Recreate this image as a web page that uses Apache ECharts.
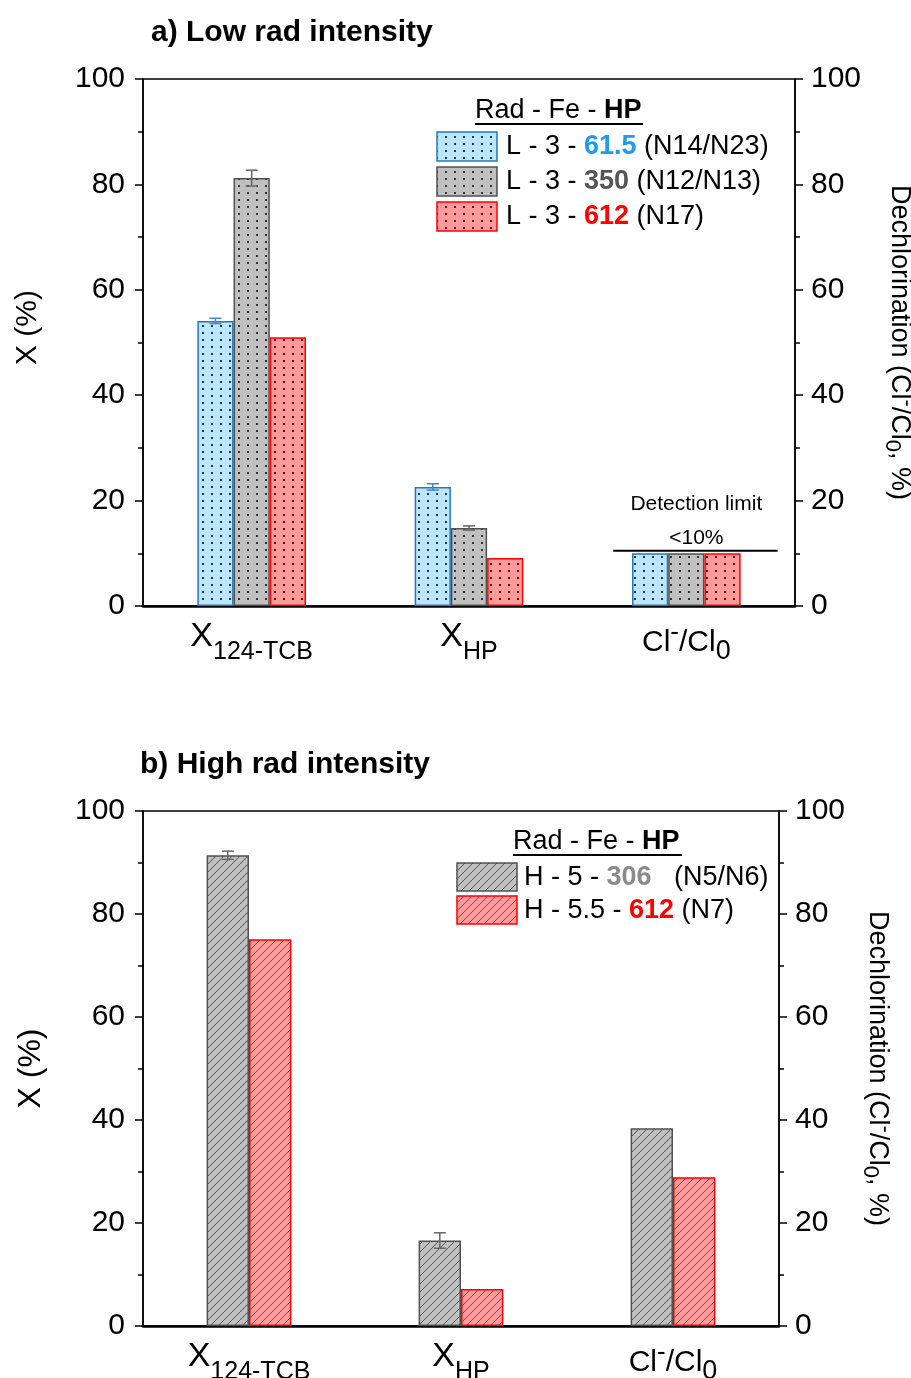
<!DOCTYPE html>
<html>
<head>
<meta charset="utf-8">
<script src="https://cdn.jsdelivr.net/npm/echarts@6/dist/echarts.min.js"></script>
<style>html,body{margin:0;padding:0;background:#fff;}#c{width:911px;height:1378px;}</style>
</head>
<body>
<div id="c"></div>
<script>
// ---------- data ----------
const categories = ['X124', 'XHP', 'Cl'];
const yTicks = [0, 20, 40, 60, 80, 100];

// a) Low rad intensity
const lowBlue = [54.1, 22.6, 10.0];
const lowBlueErr = [0.5, 0.6, 0];
const lowGray = [81.2, 14.8, 10.0];
const lowGrayErr = [1.5, 0.4, 0];
const lowRed = [51.0, 9.1, 10.0];
const detectionLimit = 10;

// b) High rad intensity
const highGray = [91.4, 16.6, 38.4];
const highGrayErr = [0.8, 1.5, 0];
const highRed = [75.1, 7.2, 28.9];

// ---------- helpers ----------
const FONT = 'Liberation Sans, Arial, sans-serif';
function dots(bg, dot) {
  const c = document.createElement('canvas'); c.width = 9; c.height = 7;
  const g = c.getContext('2d');
  g.fillStyle = bg; g.fillRect(0, 0, 9, 7);
  g.fillStyle = dot; g.fillRect(4, 3, 2, 2);
  return { image: c, repeat: 'repeat' };
}
function hatch(bg, line) {
  const c = document.createElement('canvas'); c.width = 8; c.height = 8;
  const g = c.getContext('2d');
  g.fillStyle = bg; g.fillRect(0, 0, 8, 8);
  g.strokeStyle = line; g.lineWidth = 1;
  g.beginPath();
  g.moveTo(0, 8); g.lineTo(8, 0);
  g.moveTo(-1, 1); g.lineTo(1, -1);
  g.moveTo(7, 9); g.lineTo(9, 7);
  g.stroke();
  return { image: c, repeat: 'repeat' };
}
const C = {
  blueFill: '#bde5fb', blueBorder: '#2878b8', blueDot: '#0d3a5c',
  grayFill: '#c0c0c0', grayBorder: '#505050', grayDot: '#333333',
  redFill: '#ff9a9a', redBorder: '#ff0000', redDot: '#5a1010'
};
const patBlue = dots(C.blueFill, C.blueDot);
const patGray = dots(C.grayFill, C.grayDot);
const patRed = dots(C.redFill, C.redDot);
const hatGray = hatch(C.grayFill, '#555555');
const hatRed = hatch(C.redFill, '#ff1a1a');

function errRender(n, idx, gap, color) {
  return function (params, api) {
    const ci = api.value(0), v = api.value(1), e = api.value(2);
    const bw = api.size([1, 0])[0];
    const w = bw * (1 - gap) / n;
    const cx = api.coord([ci, v])[0] + (idx - (n - 1) / 2) * w;
    const yHi = api.coord([ci, v + e])[1], yLo = api.coord([ci, v - e])[1];
    const cap = 6;
    const st = { stroke: color, lineWidth: 1.5 };
    return { type: 'group', children: [
      { type: 'line', shape: { x1: cx, y1: yHi, x2: cx, y2: yLo }, style: st },
      { type: 'line', shape: { x1: cx - cap, y1: yHi, x2: cx + cap, y2: yHi }, style: st },
      { type: 'line', shape: { x1: cx - cap, y1: yLo, x2: cx + cap, y2: yLo }, style: st }
    ]};
  };
}
function errData(vals, errs) {
  const out = [];
  vals.forEach((v, i) => { if (errs[i] > 0) out.push([i, v, errs[i]]); });
  return out;
}

const catRich = {
  x: { fontSize: 34, verticalAlign: 'top', fontFamily: FONT, color: '#000' },
  s: { fontSize: 25, verticalAlign: 'top', padding: [20, 0, 0, 0], fontFamily: FONT, color: '#000' },
  c: { fontSize: 30, verticalAlign: 'top', padding: [8, 0, 0, 0], fontFamily: FONT, color: '#000' },
  sp: { fontSize: 26, verticalAlign: 'top', fontFamily: FONT, color: '#000' },
  s0: { fontSize: 27, verticalAlign: 'top', padding: [18, 0, 0, 0], fontFamily: FONT, color: '#000' }
};
function catFmt(v) {
  if (v === 'X124') return '{x|X}{s|124-TCB}';
  if (v === 'XHP') return '{x|X}{s|HP}';
  return '{c|Cl}{sp|-}{c|/Cl}{s0|0}';
}
const nameRich = {
  n: { fontSize: 27, verticalAlign: 'top', padding: [5, 0, 0, 0], fontFamily: FONT, color: '#000' },
  sp: { fontSize: 22, verticalAlign: 'top', fontFamily: FONT, color: '#000' },
  sb: { fontSize: 22, verticalAlign: 'top', padding: [15, 0, 0, 0], fontFamily: FONT, color: '#000' }
};
const rightName = '{n|Dechlorination (Cl}{sp|-}{n|/Cl}{sb|0}{n|, %)}';

function xAxis(gi) {
  return {
    type: 'category', gridIndex: gi, data: categories,
    axisLine: { lineStyle: { color: '#000', width: 2.5 } },
    axisTick: { alignWithLabel: true, length: 9, lineStyle: { color: '#000', width: 2 } },
    axisLabel: { formatter: catFmt, rich: catRich, margin: 14, interval: 0 },
    splitLine: { show: false }
  };
}
function yAxis(gi, right, nameGap, nameSize, shift) {
  const a = {
    type: 'value', gridIndex: gi, min: 0, max: 100, interval: 20,
    position: right ? 'right' : 'left',
    axisLine: { show: true, onZero: false, lineStyle: { color: '#000', width: 1.5 } },
    axisTick: { show: true, length: 8, lineStyle: { color: '#000', width: 1.5 } },
    minorTick: { show: true, splitNumber: 2, length: 5, lineStyle: { color: '#000', width: 1.5 } },
    axisLabel: { fontSize: 30, fontFamily: FONT, color: '#000', margin: right ? 16 : 18 },
    splitLine: { show: false },
    nameLocation: 'middle', nameGap: nameGap
  };
  if (right) {
    a.name = rightName; a.nameRotate = -90;
    a.nameTextStyle = { rich: nameRich };
  } else {
    a.name = 'X (%)'; a.nameRotate = 90;
    a.nameTextStyle = { fontSize: nameSize, fontFamily: FONT, color: '#000', padding: [0, 0, 0, shift || 0] };
  }
  return a;
}

const chart = echarts.init(document.getElementById('c'), null, { renderer: 'canvas' });

function legRich(numColor) {
  return {
    t: { fontSize: 27, fontFamily: FONT, fill: '#000' },
    b: { fontSize: 27, fontFamily: FONT, fill: numColor, fontWeight: 'bold' }
  };
}
const titleRich = {
  t: { fontSize: 27, fontFamily: FONT, fill: '#000' },
  b: { fontSize: 27, fontFamily: FONT, fill: '#000', fontWeight: 'bold' }
};
function ltext(x, y, text, rich) {
  return { type: 'text', x: x, y: y, style: { text: text, rich: rich, verticalAlign: 'middle', align: 'left' } };
}

const graphic = [
  // legend a
  ltext(475, 111, '{t|Rad - Fe - }{b|HP}', titleRich),
  { type: 'line', shape: { x1: 475, y1: 124, x2: 643, y2: 124 }, style: { stroke: '#000', lineWidth: 2 } },
  { type: 'rect', shape: { x: 437, y: 132, width: 60, height: 29 }, style: { fill: patBlue, stroke: C.blueBorder, lineWidth: 1.5 } },
  { type: 'rect', shape: { x: 437, y: 167, width: 60, height: 29 }, style: { fill: patGray, stroke: C.grayBorder, lineWidth: 1.5 } },
  { type: 'rect', shape: { x: 437, y: 202, width: 60, height: 29 }, style: { fill: patRed, stroke: C.redBorder, lineWidth: 1.5 } },
  ltext(506, 147, '{t|L - 3 - }{b|61.5}{t| (N14/N23)}', legRich('#1e9df0')),
  ltext(506, 182, '{t|L - 3 - }{b|350}{t| (N12/N13)}', legRich('#555555')),
  ltext(506, 217, '{t|L - 3 - }{b|612}{t| (N17)}', legRich('#ff0000')),
  // legend b
  ltext(513, 842, '{t|Rad - Fe - }{b|HP}', titleRich),
  { type: 'line', shape: { x1: 513, y1: 855, x2: 682, y2: 855 }, style: { stroke: '#000', lineWidth: 2 } },
  { type: 'rect', shape: { x: 457, y: 863, width: 60, height: 28 }, style: { fill: hatGray, stroke: C.grayBorder, lineWidth: 1.5 } },
  { type: 'rect', shape: { x: 457, y: 896, width: 60, height: 28 }, style: { fill: hatRed, stroke: C.redBorder, lineWidth: 1.5 } },
  ltext(524, 878, '{t|H - 5 - }{b|306}{t|   (N5/N6)}', legRich('#8a8a8a')),
  ltext(524, 911, '{t|H - 5.5 - }{b|612}{t| (N7)}', legRich('#ff0000'))
];

const option = {
  backgroundColor: '#fff',
  animation: false,
  title: [
    { text: 'a) Low rad intensity', left: 146, top: 13, textStyle: { fontSize: 30, fontWeight: 'bold', fontFamily: FONT, color: '#000' } },
    { text: 'b) High rad intensity', left: 135, top: 745, textStyle: { fontSize: 30, fontWeight: 'bold', fontFamily: FONT, color: '#000' } }
  ],
  grid: [
    { left: 143, top: 79, width: 652, height: 527, show: true, borderColor: '#000', borderWidth: 1.5, backgroundColor: 'transparent', containLabel: false, outerBoundsMode: 'none' },
    { left: 143, top: 811, width: 636, height: 515, show: true, borderColor: '#000', borderWidth: 1.5, backgroundColor: 'transparent', containLabel: false, outerBoundsMode: 'none' }
  ],
  xAxis: [xAxis(0), xAxis(1)],
  yAxis: [yAxis(0, false, 100, 30, 30), yAxis(0, true, 86), yAxis(1, false, 96, 32, 0), yAxis(1, true, 80)],
  graphic: graphic,
  series: [
    { type: 'bar', xAxisIndex: 0, yAxisIndex: 0, data: lowBlue, barGap: '0%', barCategoryGap: '50%',
      itemStyle: { color: patBlue, borderColor: C.blueBorder, borderWidth: 1.5 } },
    { type: 'bar', xAxisIndex: 0, yAxisIndex: 0, data: lowGray, barGap: '0%', barCategoryGap: '50%',
      itemStyle: { color: patGray, borderColor: C.grayBorder, borderWidth: 1.5 } },
    { type: 'bar', xAxisIndex: 0, yAxisIndex: 0, data: lowRed, barGap: '0%', barCategoryGap: '50%',
      itemStyle: { color: patRed, borderColor: C.redBorder, borderWidth: 1.5 } },
    { type: 'custom', xAxisIndex: 0, yAxisIndex: 0, z: 10, data: errData(lowBlue, lowBlueErr),
      renderItem: errRender(3, 0, 0.5, '#3f88c2') },
    { type: 'custom', xAxisIndex: 0, yAxisIndex: 0, z: 10, data: errData(lowGray, lowGrayErr),
      renderItem: errRender(3, 1, 0.5, '#666666') },
    { type: 'custom', xAxisIndex: 0, yAxisIndex: 0, z: 10, data: [[2, detectionLimit]],
      renderItem: function (params, api) {
        const p = api.coord([api.value(0), api.value(1)]);
        const bw = api.size([1, 0])[0];
        const y = p[1] - 2.5;
        const tx = p[0] + 10;
        return { type: 'group', children: [
          { type: 'line', shape: { x1: p[0] - 0.336 * bw, y1: y, x2: p[0] + 0.42 * bw, y2: y }, style: { stroke: '#000', lineWidth: 2 } },
          { type: 'text', x: tx, y: y - 13, style: { text: '<10%', fontSize: 21, fontFamily: FONT, fill: '#000', align: 'center', verticalAlign: 'middle' } },
          { type: 'text', x: tx, y: y - 47, style: { text: 'Detection limit', fontSize: 21, fontFamily: FONT, fill: '#000', align: 'center', verticalAlign: 'middle' } }
        ]};
      } },
    { type: 'bar', xAxisIndex: 1, yAxisIndex: 2, data: highGray, barGap: '0%', barCategoryGap: '60%',
      itemStyle: { color: hatGray, borderColor: C.grayBorder, borderWidth: 1.5 } },
    { type: 'bar', xAxisIndex: 1, yAxisIndex: 2, data: highRed, barGap: '0%', barCategoryGap: '60%',
      itemStyle: { color: hatRed, borderColor: C.redBorder, borderWidth: 1.5 } },
    { type: 'custom', xAxisIndex: 1, yAxisIndex: 2, z: 10, data: errData(highGray, highGrayErr),
      renderItem: errRender(2, 0, 0.6, '#666666') }
  ]
};
chart.setOption(option);
</script>
</body>
</html>
